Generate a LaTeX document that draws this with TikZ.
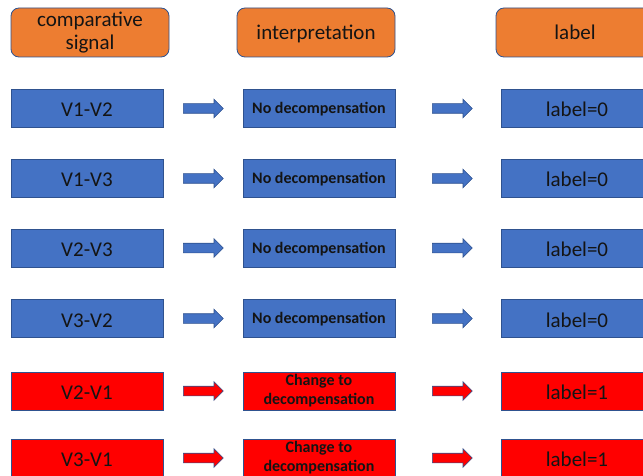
\documentclass[tikz,border=0pt]{standalone}
\usepackage{fontspec}
\setmainfont{Carlito}
\usepackage{tikz}
\usetikzlibrary{shapes.arrows}
\definecolor{hdrorange}{HTML}{ED7D31}
\definecolor{rowblue}{HTML}{4472C4}
\definecolor{rowred}{HTML}{FF0000}
\definecolor{edgeblue}{HTML}{2F528F}
\definecolor{inkgray}{HTML}{141414}
\tikzset{
  header/.style={draw=edgeblue,line width=0.8pt,rounded corners=8pt,fill=hdrorange,
    minimum width=158pt,minimum height=49pt,align=center,inner sep=0pt,
    text=inkgray,font=\fontsize{21}{23}\selectfont},
  oneline/.style={text height=15pt,text depth=0pt},
  cell/.style={draw=edgeblue,line width=0.8pt,minimum width=152pt,minimum height=38pt,
    align=center,inner sep=0pt,text=inkgray},
  sig/.style={cell,font=\fontsize{21}{24}\selectfont,text height=17pt,text depth=0pt},
  interp/.style={cell,font=\fontsize{16}{19}\selectfont\bfseries},
  flat/.style={text height=10.6pt,text depth=0pt},
  nodec/.style={fill=rowblue},
  decomp/.style={fill=rowred},
  blockarr/.style={single arrow,draw=edgeblue,line width=0.6pt,inner xsep=0pt,
    inner ysep=4.5pt,minimum height=40pt,single arrow head extend=4.5pt,
    anchor=tail}
}
\begin{document}
\begin{tikzpicture}[x=1pt,y=-1pt]
  \useasboundingbox (0,0) rectangle (643,476);

  % column headers
  \node[header] (hsig) at (90,32.5) {comparative\\signal};
  \node[header,oneline] (hint) at (316,32.5) {interpretation};
  \node[header,oneline] (hlab) at (575,32.5) {label};

  % row 1
  \node[sig,nodec] (s1) at (87,108.5) {V1-V2};
  \node[blockarr,fill=rowblue] (a1) at (183,108.5) {};
  \node[interp,flat,nodec] (i1) at (319,108.5) {No decompensation};
  \node[blockarr,fill=rowblue] (b1) at (432,108.5) {};
  \node[sig,nodec] (l1) at (577,108.5) {label=0};

  % row 2
  \node[sig,nodec] (s2) at (87,178.5) {V1-V3};
  \node[blockarr,fill=rowblue] (a2) at (183,178.5) {};
  \node[interp,flat,nodec] (i2) at (319,178.5) {No decompensation};
  \node[blockarr,fill=rowblue] (b2) at (432,178.5) {};
  \node[sig,nodec] (l2) at (577,178.5) {label=0};

  % row 3
  \node[sig,nodec] (s3) at (87,248) {V2-V3};
  \node[blockarr,fill=rowblue] (a3) at (183,248) {};
  \node[interp,flat,nodec] (i3) at (319,248) {No decompensation};
  \node[blockarr,fill=rowblue] (b3) at (432,248) {};
  \node[sig,nodec] (l3) at (577,248) {label=0};

  % row 4
  \node[sig,nodec] (s4) at (87,318.5) {V3-V2};
  \node[blockarr,fill=rowblue] (a4) at (183,318.5) {};
  \node[interp,flat,nodec] (i4) at (319,318.5) {No decompensation};
  \node[blockarr,fill=rowblue] (b4) at (432,318.5) {};
  \node[sig,nodec] (l4) at (577,318.5) {label=0};

  % row 5
  \node[sig,decomp] (s5) at (87,391) {V2-V1};
  \node[blockarr,fill=rowred] (a5) at (183,391) {};
  \node[interp,decomp] (i5) at (319,391) {Change to\\decompensation};
  \node[blockarr,fill=rowred] (b5) at (432,391) {};
  \node[sig,decomp] (l5) at (577,391) {label=1};

  % row 6
  \node[sig,decomp] (s6) at (87,458) {V3-V1};
  \node[blockarr,fill=rowred] (a6) at (183,458) {};
  \node[interp,decomp] (i6) at (319,458) {Change to\\decompensation};
  \node[blockarr,fill=rowred] (b6) at (432,458) {};
  \node[sig,decomp] (l6) at (577,458) {label=1};
\end{tikzpicture}
\end{document}
